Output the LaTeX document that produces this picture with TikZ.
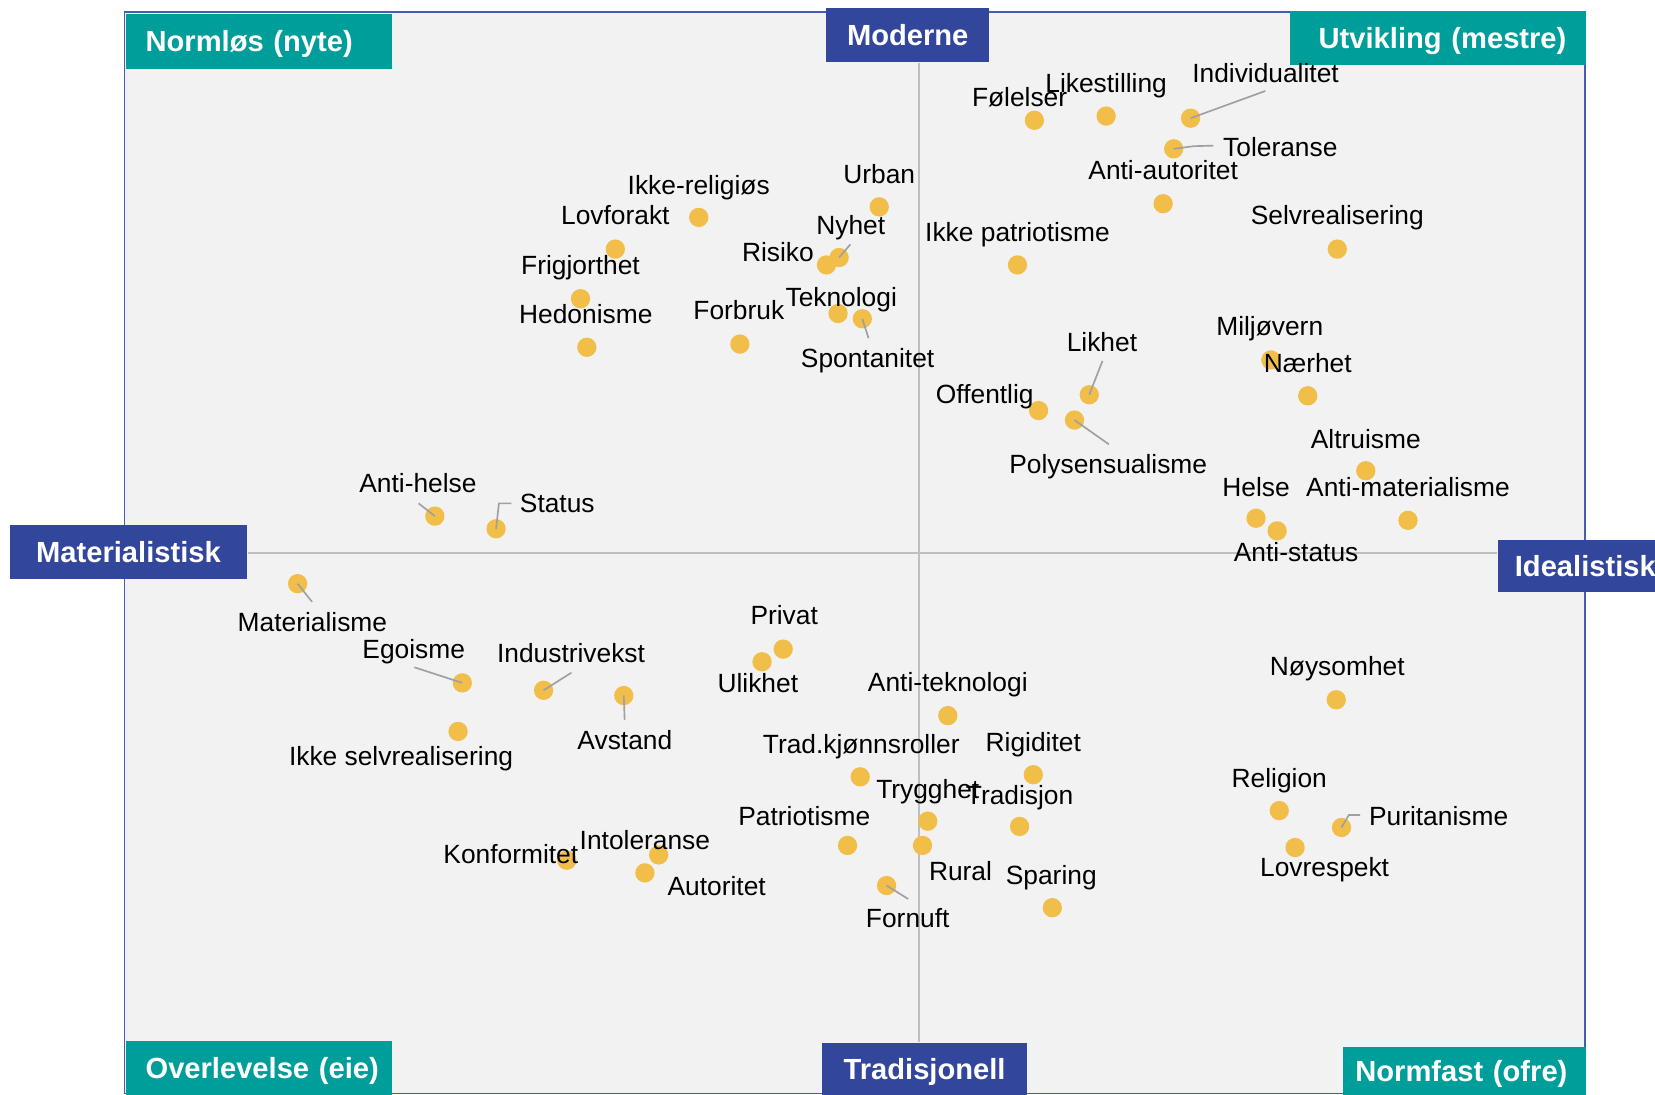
\documentclass[tikz,border=0pt]{standalone}
\usepackage{fontspec}
\setmainfont{Liberation Sans}
\usepackage{tikz}
\usetikzlibrary{positioning}
\definecolor{gul}{RGB}{241,190,74}
\definecolor{gronn}{RGB}{0,158,154}
\definecolor{blaa}{RGB}{50,70,155}
\definecolor{ramme}{RGB}{72,92,180}
\definecolor{bakgrunn}{RGB}{242,242,242}
\definecolor{akselinje}{RGB}{191,191,191}
\definecolor{leder}{RGB}{160,160,160}
\tikzset{
prikk/.style={circle,fill=gul,minimum size=0.183cm,inner sep=0pt},
etikett/.style={inner sep=0pt,text height=6.6pt,text depth=1.5pt,
font=\fontsize{7.1}{8}\selectfont},
hjorne/.style={rectangle,fill=gronn,text=white,inner sep=0pt,
text height=7.6pt,text depth=2pt,
font=\fontsize{7.85}{9}\selectfont\bfseries},
akseboks/.style={rectangle,fill=blaa,text=white,inner sep=0pt,
text height=7.6pt,text depth=2pt,
font=\fontsize{7.85}{9}\selectfont\bfseries},
strek/.style={draw=leder,line width=0.45pt},
akse/.style={draw=akselinje,line width=0.55pt}
}

\begin{document}
\begin{tikzpicture}[x=0.01cm,y=-0.01cm]
\useasboundingbox (0,0) rectangle (1568,1037);

\draw[ramme,fill=bakgrunn,line width=0.5pt] (118,11) rectangle (1502,1036);
\coordinate (origo) at (870.3,523.6);

\node[akseboks,minimum width=1.54cm,minimum height=0.51cm] (Moderne) at (860,33.5) {Moderne};
\node[akseboks,minimum width=1.94cm,minimum height=0.49cm] (Tradisjonell) at (876,1012.5) {Tradisjonell};
\node[akseboks,minimum width=2.245cm,minimum height=0.52cm] (Materialistisk) at (121.75,523) {Materialistisk};
\node[akseboks,minimum width=1.66cm,minimum height=0.49cm] (Idealistisk) at (1502,536.5) {Idealistisk};

\draw[akse] (Moderne.south -| origo) -- (Tradisjonell.north -| origo);
\draw[akse] (Materialistisk.east |- origo) -- (Idealistisk.west |- origo);

\node[hjorne,text width=2.52cm,align=left,minimum height=0.52cm] (Normlos) at (245,39) {\hspace*{0.19cm}Normløs (nyte)};
\node[hjorne,text width=2.52cm,align=left,minimum height=0.51cm] (Overlevelse) at (245,1011.5) {\hspace*{0.19cm}Overlevelse (eie)};
\node[hjorne,text width=2.81cm,align=right,minimum height=0.52cm] (Utvikling) at (1362.5,36) {Utvikling (mestre)\hspace*{0.19cm}};
\node[hjorne,text width=2.31cm,align=right,minimum height=0.45cm] (Normfast) at (1387.5,1014.5) {Normfast (ofre)\hspace*{0.18cm}};

\node[prikk] (dUrban) at (833,196) {};
\node[prikk] (dIkkeReligios) at (662,206) {};
\node[prikk] (dLovforakt) at (583,236) {};
\node[prikk] (dFrigjorthet) at (550,283) {};
\node[prikk] (dHedonisme) at (556,329) {};
\node[prikk] (dForbruk) at (701,326) {};
\node[prikk] (dRisiko) at (783,251) {};
\node[prikk] (dNyhet) at (795,244) {};
\node[prikk] (dTeknologi) at (794,297) {};
\node[prikk] (dSpontanitet) at (817,302) {};
\node[prikk] (dFolelser) at (980,114) {};
\node[prikk] (dLikestilling) at (1048,110) {};
\node[prikk] (dIndividualitet) at (1128,112) {};
\node[prikk] (dToleranse) at (1112,141) {};
\node[prikk] (dAntiAutoritet) at (1102,193) {};
\node[prikk] (dIkkePatriotisme) at (964,251) {};
\node[prikk] (dSelvrealisering) at (1267,236) {};
\node[prikk] (dMiljovern) at (1204,341) {};
\node[prikk] (dNarhet) at (1239,375) {};
\node[prikk] (dLikhet) at (1032,374) {};
\node[prikk] (dOffentlig) at (984,389) {};
\node[prikk] (dPolysensualisme) at (1018,398) {};
\node[prikk] (dAltruisme) at (1294,446) {};
\node[prikk] (dHelse) at (1190,491) {};
\node[prikk] (dAntiStatus) at (1210,503) {};
\node[prikk] (dAntiMaterialisme) at (1334,493) {};
\node[prikk] (dAntiHelse) at (412,489) {};
\node[prikk] (dStatus) at (470,501) {};
\node[prikk] (dMaterialisme) at (282,553) {};
\node[prikk] (dEgoisme) at (438,647) {};
\node[prikk] (dIndustrivekst) at (515,654) {};
\node[prikk] (dIkkeSelvreal) at (434,693) {};
\node[prikk] (dAvstand) at (591,659) {};
\node[prikk] (dPrivat) at (742,615) {};
\node[prikk] (dUlikhet) at (722,627) {};
\node[prikk] (dAntiTeknologi) at (898,678) {};
\node[prikk] (dNoysomhet) at (1266,663) {};
\node[prikk] (dTradKjonn) at (815,736) {};
\node[prikk] (dRigiditet) at (979,734) {};
\node[prikk] (dTrygghet) at (879,778) {};
\node[prikk] (dTradisjon) at (966,783) {};
\node[prikk] (dReligion) at (1212,768) {};
\node[prikk] (dPuritanisme) at (1271,784) {};
\node[prikk] (dPatriotisme) at (803,801) {};
\node[prikk] (dRural) at (874,801) {};
\node[prikk] (dIntoleranse) at (624,810) {};
\node[prikk] (dAutoritet) at (611,827) {};
\node[prikk] (dKonformitet) at (537,815) {};
\node[prikk] (dFornuft) at (840,839) {};
\node[prikk] (dSparing) at (997,860) {};
\node[prikk] (dLovrespekt) at (1227,803) {};

\coordinate (kNyhet) at (805.7,231.5);
\coordinate (kSpontanitet) at (822.9,320.5);
\coordinate (kIndividualitet) at (1198.8,86.2);
\coordinate (kToleranse) at (1149.5,138);
\coordinate (kLikhet) at (1044.5,342);
\coordinate (kPolysensualisme) at (1050.6,421);
\coordinate (kAntiHelse) at (396.6,476.9);
\coordinate (kStatus) at (484.5,476.9);
\coordinate (kMaterialisme) at (295.7,570.3);
\coordinate (kEgoisme) at (392.5,632.2);
\coordinate (kIndustrivekst) at (541.4,637.3);
\coordinate (kAvstand) at (591.8,682.1);
\coordinate (kFornuft) at (860.4,851.7);
\coordinate (kPuritanisme) at (1288.7,772.2);
\draw[strek] (dNyhet.center) -- (kNyhet);
\draw[strek] (dSpontanitet.center) -- (kSpontanitet);
\draw[strek] (dIndividualitet.center) -- (kIndividualitet);
\draw[strek] (dToleranse.center) -- (1131,138.5) -- (kToleranse);
\draw[strek] (dLikhet.center) -- (kLikhet);
\draw[strek] (dPolysensualisme.center) -- (kPolysensualisme);
\draw[strek] (dAntiHelse.center) -- (kAntiHelse);
\draw[strek] (dStatus.center) -- (472.7,476.9) -- (kStatus);
\draw[strek] (dMaterialisme.center) -- (kMaterialisme);
\draw[strek] (dEgoisme.center) -- (kEgoisme);
\draw[strek] (dIndustrivekst.center) -- (kIndustrivekst);
\draw[strek] (dAvstand.center) -- (kAvstand);
\draw[strek] (dFornuft.center) -- (kFornuft);
\draw[strek] (dPuritanisme.center) -- (1277.9,772.2) -- (kPuritanisme);

\node[etikett] (tUrban) at (833,165) {Urban};
\node[etikett] (tIkkeReligios) at (662,175) {Ikke-religiøs};
\node[etikett] (tLovforakt) at (583,204) {Lovforakt};
\node[etikett] (tFrigjorthet) at (550,251) {Frigjorthet};
\node[etikett] (tHedonisme) at (555,298) {Hedonisme};
\node[etikett] (tForbruk) at (700,294) {Forbruk};
\node[etikett] (tRisiko) at (737,239) {Risiko};
\node[etikett] (tNyhet) at (806,213) {Nyhet};
\node[etikett] (tTeknologi) at (797,281) {Teknologi};
\node[etikett] (tSpontanitet) at (822,339) {Spontanitet};
\node[etikett] (tFolelser) at (966,92) {Følelser};
\node[etikett] (tLikestilling) at (1048,79) {Likestilling};
\node[etikett] (tIndividualitet) at (1199,69) {Individualitet};
\node[etikett] (tToleranse) at (1213,139) {Toleranse};
\node[etikett] (tAntiAutoritet) at (1102,161) {Anti-autoritet};
\node[etikett] (tIkkePatriotisme) at (964,220) {Ikke patriotisme};
\node[etikett] (tSelvrealisering) at (1267,204) {Selvrealisering};
\node[etikett] (tMiljovern) at (1203,309) {Miljøvern};
\node[etikett] (tNarhet) at (1239,344) {Nærhet};
\node[etikett] (tLikhet) at (1044,324) {Likhet};
\node[etikett] (tOffentlig) at (933,373) {Offentlig};
\node[etikett] (tPolysensualisme) at (1050,440) {Polysensualisme};
\node[etikett] (tAltruisme) at (1294,416) {Altruisme};
\node[etikett] (tHelse) at (1190,461) {Helse};
\node[etikett] (tAntiMaterialisme) at (1334,461) {Anti-materialisme};
\node[etikett] (tAntiStatus) at (1228,523) {Anti-status};
\node[etikett] (tAntiHelse) at (396,458) {Anti-helse};
\node[etikett] (tStatus) at (528,477) {Status};
\node[etikett] (tMaterialisme) at (296,589) {Materialisme};
\node[etikett] (tEgoisme) at (392,615) {Egoisme};
\node[etikett] (tIndustrivekst) at (541,619) {Industrivekst};
\node[etikett] (tIkkeSelvreal) at (380,716) {Ikke selvrealisering};
\node[etikett] (tAvstand) at (592,701) {Avstand};
\node[etikett] (tPrivat) at (743,583) {Privat};
\node[etikett] (tUlikhet) at (718,647) {Ulikhet};
\node[etikett] (tAntiTeknologi) at (898,646) {Anti-teknologi};
\node[etikett] (tNoysomhet) at (1267,631) {Nøysomhet};
\node[etikett] (tTradKjonn) at (816,705) {Trad.kjønnsroller};
\node[etikett] (tRigiditet) at (979,703) {Rigiditet};
\node[etikett] (tTrygghet) at (879,748) {Trygghet};
\node[etikett] (tTradisjon) at (966,753) {Tradisjon};
\node[etikett] (tReligion) at (1212,737) {Religion};
\node[etikett] (tPuritanisme) at (1363,773) {Puritanisme};
\node[etikett] (tPatriotisme) at (762,773) {Patriotisme};
\node[etikett] (tIntoleranse) at (611,796) {Intoleranse};
\node[etikett] (tKonformitet) at (484,809) {Konformitet};
\node[etikett] (tAutoritet) at (679,839) {Autoritet};
\node[etikett] (tRural) at (910,825) {Rural};
\node[etikett] (tLovrespekt) at (1255,821) {Lovrespekt};
\node[etikett] (tSparing) at (996,829) {Sparing};
\node[etikett] (tFornuft) at (860,870) {Fornuft};
%\draw (origo) circle (5);
\end{tikzpicture}
\end{document}
